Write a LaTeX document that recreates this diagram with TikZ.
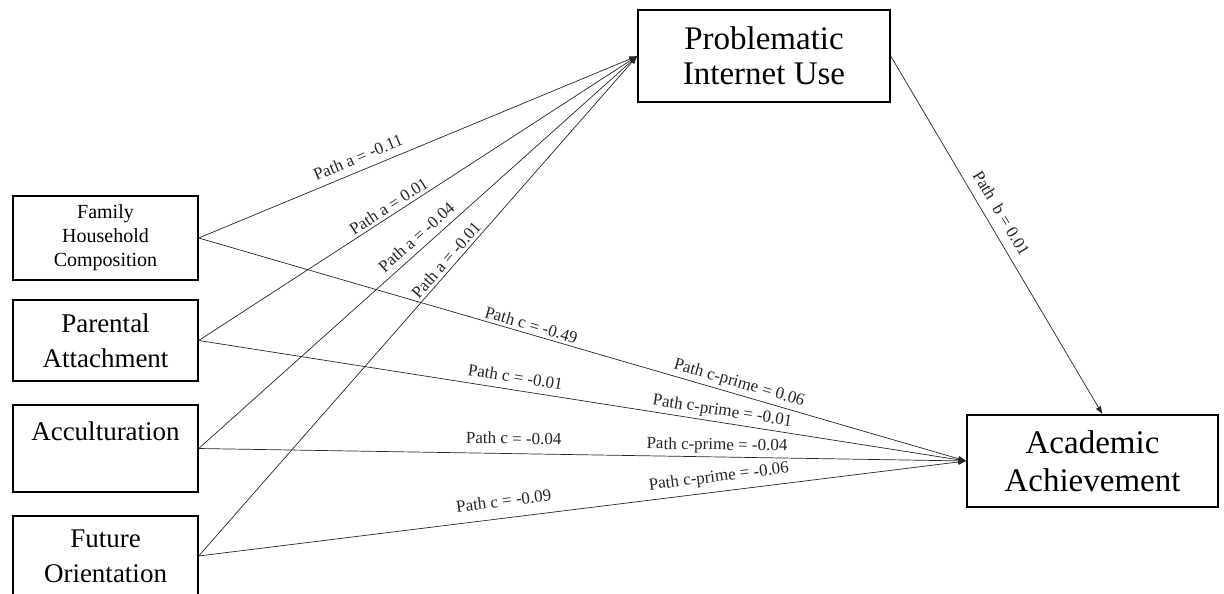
\documentclass[tikz,border=0pt]{standalone}
\usepackage{fontspec}
\setmainfont{Liberation Serif}
\usetikzlibrary{arrows.meta}

\tikzset{
  varbox/.style={draw, line width=1.4pt, align=center, inner sep=0pt},
  link/.style={-{Latex[length=8pt,width=6pt]}, line width=0.7pt, black!85},
  lbl/.style={font=\fontsize{17}{20}\selectfont, sloped, above=2pt, inner sep=1pt}
}

\begin{document}
\begin{tikzpicture}[x=1pt,y=-1pt]
  \useasboundingbox (0,0) rectangle (1224,594);

  % predictors
  \node[varbox, minimum width=185pt, minimum height=84pt, font=\fontsize{20}{24}\selectfont] (fam) at (105.5,238) {Family\\Household\\Composition};
  \node[varbox, minimum width=185pt, minimum height=81pt, font=\fontsize{27}{35}\selectfont] (par) at (105.5,340.5) {Parental\\Attachment};
  \node[varbox, minimum width=185pt, minimum height=87pt, font=\fontsize{27}{35}\selectfont] (acc) at (105.5,448.5) {Acculturation\\\mbox{}};
  \node[varbox, minimum width=185pt, minimum height=80pt, font=\fontsize{27}{35}\selectfont] (fut) at (105.5,556) {Future\\Orientation};

  % mediator and outcome
  \node[varbox, minimum width=252pt, minimum height=92pt, font=\fontsize{33}{35}\selectfont] (piu) at (764,56) {Problematic\\Internet Use};
  \node[varbox, minimum width=251pt, minimum height=92pt, font=\fontsize{33}{38}\selectfont] (ach) at (1092.5,461) {Academic\\Achievement};

  % paths a
  \draw[link] (fam.east) -- node[lbl,pos=.375,above=4pt]{Path a = -0.11} (piu.west);
  \draw[link] (par.east) -- node[lbl,pos=.445]{Path a = 0.01} (piu.west);
  \draw[link] (acc.east) -- node[lbl,pos=.515,above=3pt]{Path a = -0.04} (piu.west);
  \draw[link] (fut.east) -- node[lbl,pos=.58]{Path a = -0.01} (piu.west);

  % path b
  \draw[link] (piu.east) -- node[lbl,pos=.46,above=6pt]{Path~~b = 0.01} ([xshift=10pt]ach.north);

  % paths c and c-prime
  \draw[link] (fam.east) -- node[lbl,pos=.43,above=0pt]{Path c = -0.49}
    node[lbl,pos=.70]{Path c-prime = 0.06} (ach.west);
  \draw[link] (par.east) -- node[lbl,pos=.41,above=4pt]{Path c = -0.01}
    node[lbl,pos=.68,above=0pt]{Path c-prime = -0.01} (ach.west);
  \draw[link] (acc.east) -- node[lbl,pos=.41,above=6pt]{Path c = -0.04}
    node[lbl,pos=.675,above=0pt]{Path c-prime = -0.04} (ach.west);
  \draw[link] (fut.east) -- node[lbl,pos=.40,above=8pt]{Path c = -0.09}
    node[lbl,pos=.68,above=3pt]{Path c-prime = -0.06} (ach.west);
\end{tikzpicture}
\end{document}
